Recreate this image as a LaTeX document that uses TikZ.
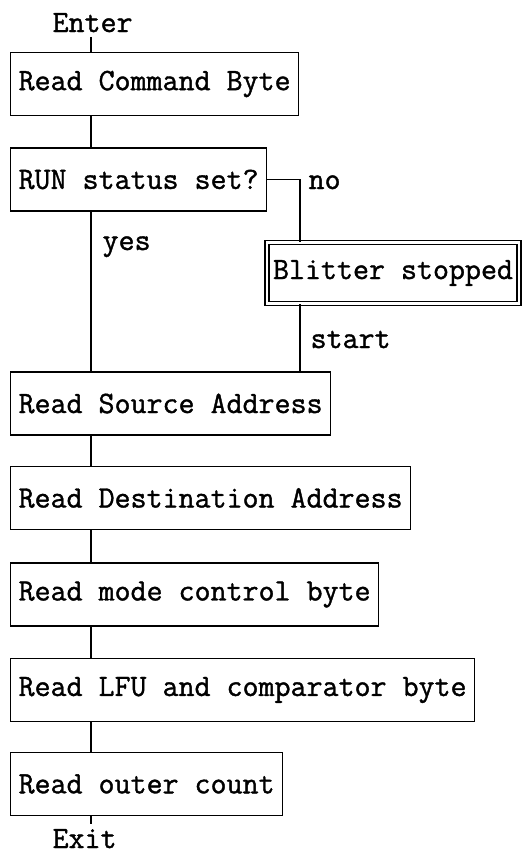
\documentclass[tikz,border=0pt]{standalone}
\usepackage{fontspec}
\newfontfamily\flowtt{Latin Modern Mono}[FakeBold=1.2]

\tikzset{every picture/.style={line width=0.9pt}}
\tikzset{
  flowfont/.style={font=\flowtt\fontsize{23.3}{26}\selectfont},
  readbox/.style={flowfont, draw, rectangle, anchor=west, inner xsep=6pt, minimum height=47.25pt},
  haltbox/.style={flowfont, draw, rectangle, double, double distance=2pt, minimum width=189pt, minimum height=45.75pt, inner sep=0pt},
  flowlabel/.style={flowfont, anchor=base west, inner sep=3pt}
}

\begin{document}
\begin{tikzpicture}[x=0.75pt,y=0.75pt,yscale=-1,xscale=1]
\useasboundingbox (0,0) rectangle (522,854);

% Text Node
\node (enter) [flowlabel] at (48,32) {Enter};
%Shape: Rectangle
\node (cmd) [readbox] at (10,84) {Read Command Byte};
\node (run) [readbox] at (10,179.5) {RUN status set?};
\node (halt) [haltbox] at (393,273) {Blitter stopped};
\node (src) [readbox] at (10,403.5) {Read Source Address};
\node (dst) [readbox] at (10,498) {Read Destination Address};
\node (mode) [readbox] at (10,594.5) {Read mode control byte};
\node (lfu) [readbox] at (10,690) {Read LFU and comparator byte};
\node (outer) [readbox] at (10,784) {Read outer count};
% Text Node
\node (exit) [flowlabel] at (48,848) {Exit};
\node (no) [flowlabel] at (304,189) {no};
\node (yes) [flowlabel] at (98,250) {yes};
\node (start) [flowlabel] at (306,348) {start};

\coordinate (bend) at (300,180);

%Shape: Boxed Line
\draw (enter.south -| 91,0) -- (cmd.north -| 91,0);
\draw (cmd.south -| 91,0) -- (run.north -| 91,0);
\draw (run.south -| 91,0) -- (src.north -| 91,0);
\draw (run.east) -| (halt.north -| bend);
\draw (halt.south -| bend) -- (src.north -| bend);
\draw (src.south -| 91,0) -- (dst.north -| 91,0);
\draw (dst.south -| 91,0) -- (mode.north -| 91,0);
\draw (mode.south -| 91,0) -- (lfu.north -| 91,0);
\draw (lfu.south -| 91,0) -- (outer.north -| 91,0);
\draw (outer.south -| 91,0) -- (exit.north -| 91,0);

\end{tikzpicture}
\end{document}
